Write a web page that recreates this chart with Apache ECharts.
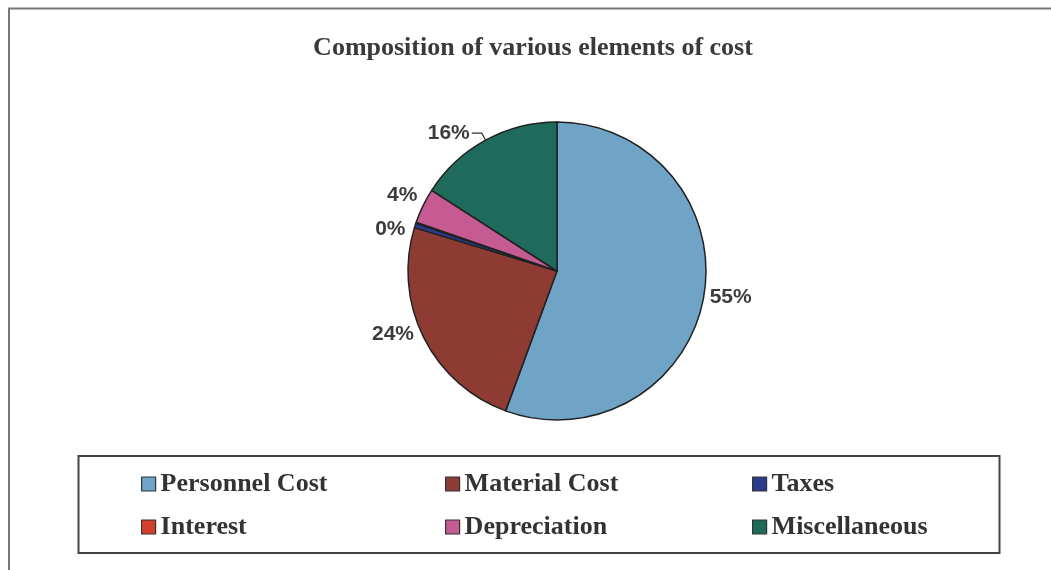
<!DOCTYPE html>
<html><head><meta charset="utf-8">
<script src="https://cdn.jsdelivr.net/npm/echarts@6/dist/echarts.min.js"></script>
<style>html,body{margin:0;padding:0;background:#fff}#c{width:1051px;height:570px}</style>
</head><body><div id="c"></div>
<script>
const titleText = 'Composition of various elements of cost';
const categories = ['Personnel Cost','Material Cost','Taxes','Interest','Depreciation','Miscellaneous'];
const values = [55.6, 24.1, 0.5, 0.1, 3.8, 15.9];
const labels = ['55%','24%','0%','0%','4%','16%'];
const showLabel = [true, true, true, false, true, true];
const colors = ['#6FA4C6','#8E3B33','#2A3C8E','#D5402E','#C65A93','#1E6B5C'];
const legendCols = [['Personnel Cost','Interest'],['Material Cost','Depreciation'],['Taxes','Miscellaneous']];

// label leader styling per slice (lengths / vertical nudges only)
const leadLen = [2, 4, 8, 2, 4, 8];
const leadLen2 = [2, 4, 0, 2, 0, 10];
const nudge = [0, -10, 12, 0, -18, 0]; // negative = raise label, positive = lower label

const chart = echarts.init(document.getElementById('c'));
const data = categories.map((n,i)=>{
  const t = labels[i];
  const f = nudge[i] < 0 ? t + '\n' : (nudge[i] > 0 ? '\n' + t : t);
  const lh = nudge[i] !== 0 ? Math.abs(nudge[i]) : undefined;
  return {name:n, value:values[i], itemStyle:{color:colors[i]},
    label:{show:showLabel[i], formatter:f, lineHeight:lh},
    labelLine:{show: i===5, length:leadLen[i], length2:leadLen2[i]}};
});
const legendLeft = [136, 440, 747];
chart.setOption({
  backgroundColor:'#fff',
  animation:false,
  title:{text:titleText, left:528, textAlign:'center', top:30, textStyle:{fontFamily:'Liberation Serif', fontWeight:'bold', fontSize:26, color:'#3a3a3a'}},
  legend: legendCols.map((col,k)=>({
    data:col, orient:'vertical', left:legendLeft[k], top:466, itemGap:17,
    itemWidth:14, itemHeight:14, icon:'rect', selectedMode:false,
    itemStyle:{borderColor:'#333', borderWidth:1.2},
    textStyle:{fontFamily:'Liberation Serif', fontWeight:'bold', fontSize:26, color:'#333'}
  })),
  graphic:[
    {type:'polyline', shape:{points:[[9,575],[9,8.5],[1060,8.5]]}, style:{stroke:'#777', lineWidth:2, fill:null}},
    {type:'rect', shape:{x:78.5, y:456, width:921, height:97}, style:{stroke:'#444', lineWidth:2, fill:null}}
  ],
  series:[{
    type:'pie', center:[557,271], radius:149, startAngle:90, clockwise:true,
    avoidLabelOverlap:false,
    labelLayout:{hideOverlap:false},
    itemStyle:{borderColor:'#222', borderWidth:1.5},
    label:{position:'outside', fontFamily:'Liberation Sans', fontWeight:'bold', fontSize:21, color:'#3c3c3c', distanceToLabelLine:2},
    labelLine:{lineStyle:{color:'#333', width:1.2}},
    data:data
  }]
});
</script></body></html>
